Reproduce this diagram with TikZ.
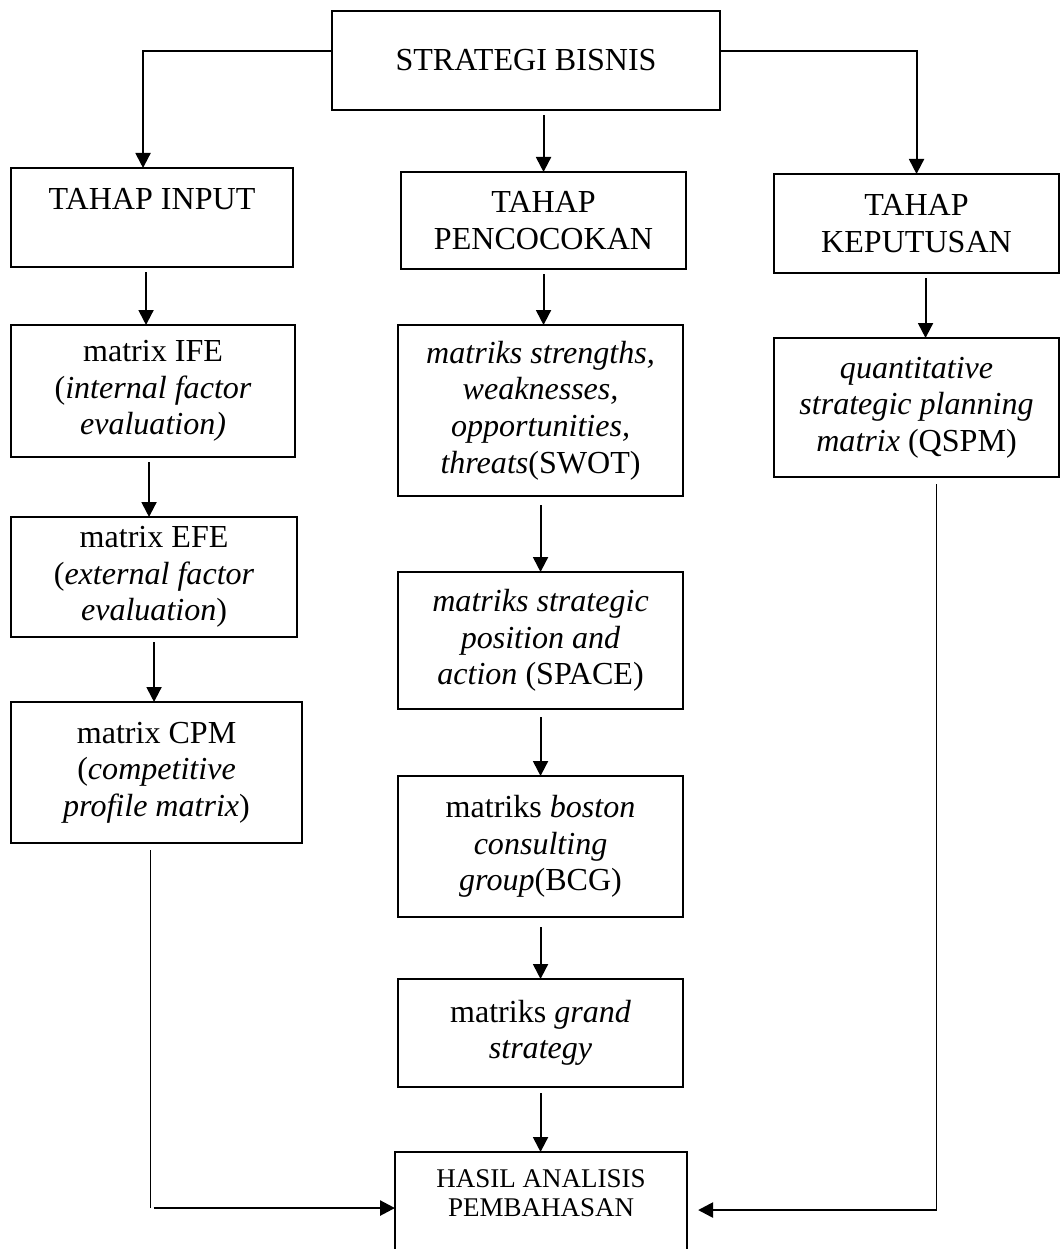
\documentclass[tikz,border=0pt]{standalone}
\usepackage{fontspec}
\setmainfont{Liberation Serif}
\usetikzlibrary{arrows.meta}
\usetikzlibrary{calc}
\tikzset{bx/.style={draw,line width=1.2pt,align=center,anchor=north west,inner sep=0pt,outer sep=0pt,font=\fontsize{22.8}{26}\selectfont}}
\tikzset{hs/.style={font=\fontsize{19.2}{20.6}\selectfont}}
\tikzset{ar/.style={-{Triangle[length=0.375cm,width=0.375cm]},line width=1.4pt,shorten <=0.125cm}}
\tikzset{thn/.style={line width=0.8pt,shorten <=0.175cm}}

\begin{document}
\begin{tikzpicture}[x=0.025cm,y=-0.025cm]
  \useasboundingbox (0,0) rectangle (1061,1249);
  % top
  \node[bx,minimum width=9.7cm,minimum height=2.475cm] (sb) at (332,11) {STRATEGI BISNIS};
  \node[bx,minimum width=7.05cm,minimum height=2.475cm] (inp) at (11,168) {TAHAP INPUT\\ \mbox{}};
  \node[bx,minimum width=7.125cm,minimum height=2.425cm] (pen) at (401,172) {TAHAP\\PENCOCOKAN};
  \node[bx,minimum width=7.125cm,minimum height=2.475cm] (kep) at (774,174) {TAHAP\\KEPUTUSAN};
  % input column
  \node[bx,minimum width=7.1cm,minimum height=3.3cm] (ife) at (11,325)
    {matrix IFE\\(\textit{internal factor}\\\textit{evaluation)}};
  \node[bx,minimum width=7.15cm,minimum height=3.0cm] (efe) at (11,517)
    {matrix EFE\\(\textit{external factor}\\\textit{evaluation})};
  \node[bx,minimum width=7.275cm,minimum height=3.525cm] (cpm) at (11,702)
    {matrix CPM\\(\textit{competitive}\\\textit{profile matrix})};
  % matching column
  \node[bx,minimum width=7.125cm,minimum height=4.275cm] (swot) at (398,325)
    {\textit{matriks strengths,}\\\textit{weaknesses,}\\\textit{opportunities,}\\\textit{threats}(SWOT)};
  \node[bx,minimum width=7.125cm,minimum height=3.425cm] (space) at (398,572)
    {\textit{matriks strategic}\\\textit{position and}\\\textit{action} (SPACE)};
  \node[bx,minimum width=7.125cm,minimum height=3.525cm] (bcg) at (398,776)
    {matriks \textit{boston}\\\textit{consulting}\\\textit{group}(BCG)};
  \node[bx,minimum width=7.125cm,minimum height=2.7cm] (grand) at (398,979)
    {matriks \textit{grand}\\\textit{strategy}};
  \node[bx,hs,minimum width=7.3cm,minimum height=3.5cm] (has) at (395,1152)
    {HASIL ANALISIS\\PEMBAHASAN\\ \mbox{}\\ \mbox{}};
  % decision column
  \node[bx,minimum width=7.125cm,minimum height=3.475cm] (qspm) at (774,338)
    {\textit{quantitative}\\\textit{strategic planning}\\\textit{matrix} (QSPM)};

  \draw[ar,shorten <=0pt] ([yshift=0.2375cm]sb.west) -| ([xshift=-0.225cm]inp.north);
  \draw[ar,shorten <=0pt] ([yshift=0.2375cm]sb.east) -| (kep.north);
  \draw[ar] (sb.south -| pen.north) -- (pen.north);
  \draw[ar] ([xshift=-0.15cm]inp.south) -- ([xshift=-0.15cm]inp.south |- ife.north);
  \draw[ar] ([xshift=-0.1cm]ife.south) -- ([xshift=-0.1cm]ife.south |- efe.north);
  \draw[ar] (efe.south) -- (efe.south |- cpm.north);
  \draw[ar] (pen.south) -- (pen.south |- swot.north);
  \draw[ar,shorten <=0.225cm] (swot.south) -- (space.north);
  \draw[ar,shorten <=0.2cm] (space.south) -- (bcg.north);
  \draw[ar,shorten <=0.25cm] (bcg.south) -- (grand.north);
  \draw[ar,shorten <=0.15cm] (grand.south) -- (grand.south |- has.north);
  \draw[ar] ([xshift=0.225cm]kep.south) -- ([xshift=0.225cm]kep.south |- qspm.north);
  % return lines
  \coordinate (cl) at ($(cpm.south)+(-6,365)$);
  \coordinate (cr) at ($(qspm.south)+(20,733)$);
  \draw[thn] ($(cpm.south)+(-6,0)$) -- (cl);
  \draw[ar,line width=1.8pt,shorten <=0.075cm] (cl) -- (cl -| has.west);
  \draw[thn] ($(qspm.south)+(20,0)$) -- (cr);
  \draw[ar,line width=1.8pt,shorten <=0pt,shorten >=0.275cm] (cr) -- (cr -| has.east);
\end{tikzpicture}
\end{document}
